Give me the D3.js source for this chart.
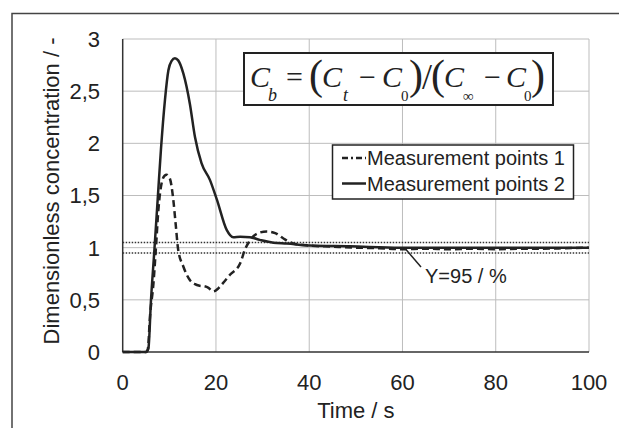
<!DOCTYPE html>
<html>
<head>
<meta charset="utf-8">
<script src="https://cdn.jsdelivr.net/npm/d3@7"></script>
<style>
  html, body { margin: 0; padding: 0; background: #fff; }
  svg { display: block; }
</style>
</head>
<body>
<svg id="chart" width="619" height="428"></svg>
<script>
// ---- data ----
const xTicks = [0, 20, 40, 60, 80, 100];
const yTicks = [0, 0.5, 1, 1.5, 2, 2.5, 3];
const yTickLabels = ["0", "0,5", "1", "1,5", "2", "2,5", "3"];
const seriesNames = ["Measurement points 1", "Measurement points 2"];
const bandValues = [0.95, 1.05];

const time1 = [0, 2, 4, 5.0, 5.4, 5.85, 6.6, 7.1, 7.65, 8.35, 9.0, 9.4, 10.1, 10.85, 11.35, 11.9, 13.0, 14.4, 15.5, 16.5, 17.5, 18.4, 19.4, 20.5, 21.5, 23.0, 25.2, 26.2, 27.3, 29.1, 30.9, 32.7, 34.4, 36.6, 40.2, 45, 50, 55, 60, 65, 70, 75, 80, 85, 90, 95, 100];
const conc1 = [0, 0, 0, 0, 0.03, 0.34, 0.66, 0.98, 1.36, 1.62, 1.69, 1.70, 1.665, 1.46, 1.23, 0.98, 0.82, 0.69, 0.65, 0.635, 0.63, 0.615, 0.58, 0.61, 0.66, 0.74, 0.85, 0.98, 1.07, 1.14, 1.155, 1.14, 1.09, 1.04, 1.02, 1.01, 1.0, 0.995, 0.985, 0.99, 0.985, 0.99, 0.985, 0.99, 0.99, 0.995, 1.0];

const time2 = [0, 2, 4, 5.0, 5.5, 6.07, 6.8, 7.5, 8.2, 9.07, 9.8, 10.5, 11.2, 11.9, 13.0, 14.4, 15.5, 16.9, 18.7, 20.2, 22.3, 23.7, 25.2, 27.3, 29.4, 32.3, 35.2, 40.2, 48.7, 59.5, 70, 80, 90, 100];
const conc2 = [0, 0, 0, 0, 0.03, 0.5, 0.98, 1.46, 1.94, 2.42, 2.70, 2.79, 2.815, 2.795, 2.67, 2.38, 2.06, 1.81, 1.65, 1.46, 1.17, 1.10, 1.105, 1.10, 1.075, 1.048, 1.04, 1.02, 1.013, 1.0, 1.0, 1.0, 1.0, 1.0];

// ---- layout ----
const svg = d3.select("#chart");
const pL = 122.7, pR = 589, pT = 39, pB = 352;
const x = d3.scaleLinear().domain([0, 100]).range([pL, pR]);
const y = d3.scaleLinear().domain([0, 3]).range([pB, pT]);
const ink = "#222";
const font = "'Liberation Sans', Arial, sans-serif";

// outer frame (partially visible)
svg.append("rect").attr("x", 12).attr("y", 13.5).attr("width", 800).attr("height", 600)
  .attr("fill", "none").attr("stroke", "#444").attr("stroke-width", 1.5);

// grid
svg.append("g").selectAll("line").data(yTicks.filter(d => d > 0)).join("line")
  .attr("x1", pL).attr("x2", pR).attr("y1", d => y(d)).attr("y2", d => y(d))
  .attr("stroke", "#bdbdbd").attr("stroke-width", 1);
svg.append("g").selectAll("line").data(xTicks.filter(d => d > 0)).join("line")
  .attr("x1", d => x(d)).attr("x2", d => x(d)).attr("y1", pT).attr("y2", pB)
  .attr("stroke", "#bdbdbd").attr("stroke-width", 1);

// axes lines
svg.append("line").attr("x1", pL).attr("x2", pL).attr("y1", pT).attr("y2", pB)
  .attr("stroke", "#333").attr("stroke-width", 1.5);
svg.append("line").attr("x1", pL).attr("x2", pR).attr("y1", pB).attr("y2", pB)
  .attr("stroke", "#333").attr("stroke-width", 1.5);

// tick labels
svg.append("g").selectAll("text").data(yTicks).join("text")
  .attr("x", 100).attr("y", d => y(d)).attr("dy", "0.36em")
  .attr("text-anchor", "end").attr("font-family", font).attr("font-size", 22).attr("fill", ink)
  .text((d, i) => yTickLabels[i]);
svg.append("g").selectAll("text").data(xTicks).join("text")
  .attr("x", d => x(d)).attr("y", 390)
  .attr("text-anchor", "middle").attr("font-family", font).attr("font-size", 22).attr("fill", ink)
  .text(d => d);

// axis titles
svg.append("text").attr("x", (pL + pR) / 2).attr("y", 418)
  .attr("text-anchor", "middle").attr("font-family", font).attr("font-size", 22).attr("fill", ink)
  .text("Time / s");
svg.append("text").attr("transform", "translate(59,191) rotate(-90)")
  .attr("text-anchor", "middle").attr("font-family", font).attr("font-size", 22).attr("fill", ink)
  .text("Dimensionless concentration / -");

// tolerance band lines
svg.append("g").selectAll("line").data(bandValues).join("line")
  .attr("x1", pL).attr("x2", pR).attr("y1", d => y(d)).attr("y2", d => y(d))
  .attr("stroke", "#333").attr("stroke-width", 1.5).attr("stroke-dasharray", "1.5,1.5");

// curves
const line = d3.line().x(d => x(d[0])).y(d => y(d[1])).curve(d3.curveMonotoneX);
const pts1 = time1.map((t, i) => [t, conc1[i]]);
const pts2 = time2.map((t, i) => [t, conc2[i]]);
svg.append("path").datum(pts1).attr("d", line).attr("fill", "none")
  .attr("stroke", ink).attr("stroke-width", 2.5).attr("stroke-dasharray", "7,4");
svg.append("path").datum(pts2).attr("d", line).attr("fill", "none")
  .attr("stroke", ink).attr("stroke-width", 2.5);

// annotation
svg.append("line").attr("x1", x(60.8)).attr("y1", y(0.98)).attr("x2", 421).attr("y2", 267)
  .attr("stroke", ink).attr("stroke-width", 1.5);
svg.append("text").attr("x", 425).attr("y", 283).attr("font-family", font).attr("font-size", 20)
  .attr("fill", ink).text("Y=95 / %");

// legend
const lg = svg.append("g");
lg.append("rect").attr("x", 332.5).attr("y", 145).attr("width", 241).attr("height", 54)
  .attr("fill", "#fff").attr("stroke", "#222").attr("stroke-width", 1.5);
lg.append("line").attr("x1", 342).attr("x2", 366).attr("y1", 158).attr("y2", 158)
  .attr("stroke", ink).attr("stroke-width", 2.5).attr("stroke-dasharray", "6,3,2,3");
lg.append("line").attr("x1", 342).attr("x2", 366).attr("y1", 183.5).attr("y2", 183.5)
  .attr("stroke", ink).attr("stroke-width", 2.5);
lg.selectAll("text").data(seriesNames).join("text")
  .attr("x", 367).attr("y", (d, i) => 165 + i * 25.5)
  .attr("font-family", font).attr("font-size", 20).attr("fill", ink).text(d => d);

// formula box
svg.append("rect").attr("x", 244).attr("y", 53).attr("width", 309).attr("height", 52)
  .attr("fill", "#fff").attr("stroke", "#222").attr("stroke-width", 2);
const serif = "'Liberation Serif', 'Times New Roman', serif";
const parts = [
  { t: "C", x: 250, y: 87, s: 30, it: true },
  { t: "b", x: 268, y: 101, s: 18, it: true },
  { t: "=", x: 286, y: 87, s: 30, it: false },
  { t: "(", x: 309, y: 89, s: 42, it: false },
  { t: "C", x: 322, y: 87, s: 30, it: true },
  { t: "t", x: 343, y: 101, s: 18, it: true },
  { t: "\u2212", x: 359, y: 87, s: 30, it: false },
  { t: "C", x: 382, y: 87, s: 30, it: true },
  { t: "0", x: 401, y: 101, s: 15, it: false },
  { t: "C", x: 444, y: 87, s: 30, it: true },
  { t: "\u221E", x: 463, y: 101, s: 15, it: false },
  { t: "\u2212", x: 484, y: 87, s: 30, it: false },
  { t: "C", x: 506, y: 87, s: 30, it: true },
  { t: "0", x: 524, y: 101, s: 15, it: false },
  { t: ")", x: 531, y: 89, s: 42, it: false }
];
svg.append("g").selectAll("text").data(parts).join("text")
  .attr("x", d => d.x).attr("y", d => d.y)
  .attr("font-family", serif).attr("font-size", d => d.s)
  .attr("font-style", d => d.it ? "italic" : "normal")
  .attr("fill", ink).text(d => d.t);
// ")/(" joined as one text run
const mid = svg.append("text").attr("x", 409).attr("y", 89)
  .attr("font-family", serif).attr("fill", ink);
mid.append("tspan").attr("font-size", 42).text(")");
mid.append("tspan").attr("font-size", 36).attr("dx", -1).text("/");
mid.append("tspan").attr("font-size", 42).attr("dx", -1).text("(");
</script>
</body>
</html>
